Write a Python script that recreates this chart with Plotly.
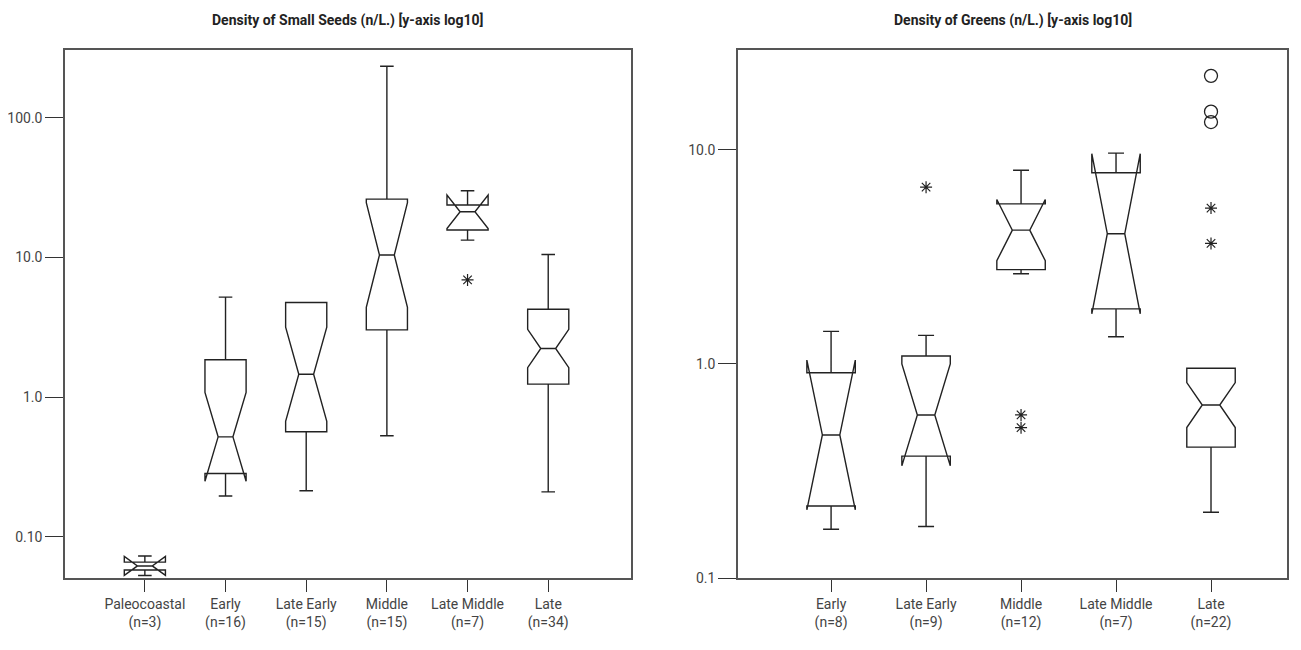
import numpy as np
import plotly.graph_objects as go

# ---------------- Data ----------------
# Left panel: Density of Small Seeds (n/L.)
seed_cats = ["Paleocoastal", "Early", "Late Early", "Middle", "Late Middle", "Late"]
seed_n = [3, 16, 15, 15, 7, 34]
seed_lf = [0.053, 0.196, 0.214, 0.53, 13.3, 0.21]
seed_q1 = [0.058, 0.284, 0.565, 3.03, 15.7, 1.24]
seed_med = [0.062, 0.52, 1.46, 10.4, 21.2, 2.23]
seed_q3 = [0.066, 1.85, 4.76, 26.1, 23.7, 4.26]
seed_uf = [0.073, 5.2, 4.76, 233.0, 30.0, 10.5]
seed_notch_log = [0.068, 0.318, 0.337, 0.374, 0.12, 0.137]   # notch half-span in log10 units
seed_out_cat = ["Late Middle"]
seed_out_val = [6.9]

# Right panel: Density of Greens (n/L.)
green_cats = ["Early", "Late Early", "Middle", "Late Middle", "Late"]
green_n = [8, 9, 12, 7, 22]
green_lf = [0.169, 0.174, 2.64, 1.34, 0.203]
green_q1 = [0.217, 0.371, 2.76, 1.81, 0.409]
green_med = [0.466, 0.578, 4.22, 4.06, 0.643]
green_q3 = [0.91, 1.09, 5.6, 7.83, 0.955]
green_uf = [1.42, 1.36, 8.04, 9.66, 0.955]
green_notch_log = [0.35, 0.238, 0.143, 0.374, 0.105]
green_star_cat = ["Late Early", "Middle", "Middle", "Late", "Late"]
green_star_val = [6.7, 0.578, 0.504, 5.35, 3.66]
green_circ_cat = ["Late", "Late", "Late"]
green_circ_val = [22.2, 15.1, 13.5]

seed_ticks = [0.1, 1.0, 10.0, 100.0]
seed_ticktext = ["0.10", "1.0", "10.0", "100.0"]
green_ticks = [0.1, 1.0, 10.0]
green_ticktext = ["0.1", "1.0", "10.0"]

# ---------------- Style ----------------
FONT = "Roboto, Liberation Sans, sans-serif"
LINE = "#222222"
FRAME = "#555555"
lg = np.log10

# page body has an 8px margin -> figure is offset by 8px
OFF = 8
W, H = 1301 - OFF, 650 - OFF


def px_x(p):
    return (p - OFF) / W


def px_y(p):
    return 1 - (p - OFF) / H


fig = go.Figure()


def add_boxes(cats, lf, q1, med, q3, uf, nl, xa, ya):
    for i, c in enumerate(cats):
        fig.add_trace(go.Box(
            x=[c],
            lowerfence=[lg(lf[i])], q1=[lg(q1[i])], median=[lg(med[i])],
            q3=[lg(q3[i])], upperfence=[lg(uf[i])], notchspan=[nl[i]],
            notched=True, notchwidth=0.32, whiskerwidth=0.33,
            width=0.51, boxpoints=False,
            line=dict(color=LINE, width=1.4), fillcolor="rgba(255,255,255,0)",
            xaxis=xa, yaxis=ya, showlegend=False, hoverinfo="skip",
        ))


add_boxes(seed_cats, seed_lf, seed_q1, seed_med, seed_q3, seed_uf, seed_notch_log, "x", "y")
add_boxes(green_cats, green_lf, green_q1, green_med, green_q3, green_uf, green_notch_log, "x2", "y2")

star = dict(symbol="asterisk-open", size=10, color=LINE, line=dict(color=LINE, width=1.2))
circ = dict(symbol="circle-open", size=13, color=LINE, line=dict(color=LINE, width=1.3))

fig.add_trace(go.Scatter(x=seed_out_cat, y=lg(seed_out_val), mode="markers", marker=star,
                         xaxis="x", yaxis="y", showlegend=False, hoverinfo="skip"))
fig.add_trace(go.Scatter(x=green_star_cat, y=lg(green_star_val), mode="markers", marker=star,
                         xaxis="x2", yaxis="y2", showlegend=False, hoverinfo="skip"))
fig.add_trace(go.Scatter(x=green_circ_cat, y=lg(green_circ_val), mode="markers", marker=circ,
                         xaxis="x2", yaxis="y2", showlegend=False, hoverinfo="skip"))

ydom = [px_y(578), px_y(50)]
axis_common = dict(showline=True, mirror=True, linecolor=FRAME, linewidth=1.5,
                   ticks="outside", tickwidth=1.3, tickcolor="#333333",
                   showgrid=False, zeroline=False, automargin=False,
                   tickfont=dict(family=FONT, size=14, color="#444444"))

fig.update_layout(
    width=W, height=H,
    margin=dict(l=0, r=0, t=0, b=0, pad=0),
    paper_bgcolor="white", plot_bgcolor="white",
    xaxis=dict(domain=[px_x(65), px_x(630.5)], anchor="y", type="category",
               categoryorder="array", categoryarray=seed_cats,
               range=[-0.99, 6.02], ticklen=12,
               tickvals=seed_cats,
               ticktext=[f"{c}<br>(n={n})" for c, n in zip(seed_cats, seed_n)],
               **axis_common),
    yaxis=dict(domain=ydom, anchor="x", range=[-1.294, 2.484], ticklen=18,
               tickvals=[lg(v) for v in seed_ticks], ticktext=seed_ticktext,
               **axis_common),
    xaxis2=dict(domain=[px_x(738), px_x(1287)], anchor="y2", type="category",
                categoryorder="array", categoryarray=green_cats,
                range=[-0.98, 4.8], ticklen=12,
                tickvals=green_cats,
                ticktext=[f"{c}<br>(n={n})" for c, n in zip(green_cats, green_n)],
                **axis_common),
    yaxis2=dict(domain=ydom, anchor="x2", range=[-1.0, 1.467], ticklen=18,
                tickvals=[lg(v) for v in green_ticks], ticktext=green_ticktext,
                **axis_common),
    annotations=[
        dict(text="<b>Density of Small Seeds (n/L.) [y-axis log10]</b>", x=px_x((65 + 630.5) / 2),
             y=px_y(20), xref="paper", yref="paper", showarrow=False,
             font=dict(family=FONT, size=14, color="#222222"), xanchor="center", yanchor="middle"),
        dict(text="<b>Density of Greens (n/L.) [y-axis log10]</b>", x=px_x((738 + 1287) / 2),
             y=px_y(20), xref="paper", yref="paper", showarrow=False,
             font=dict(family=FONT, size=14, color="#222222"), xanchor="center", yanchor="middle"),
    ],
)

fig.write_html("out.html")
